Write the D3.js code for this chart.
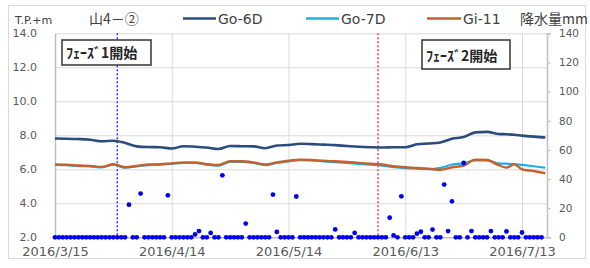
<!DOCTYPE html>
<html><head><meta charset="utf-8">
<script src="https://cdn.jsdelivr.net/npm/d3@7"></script>
<style>html,body{margin:0;padding:0;background:#fff;}svg{display:block;}</style>
</head><body>
<svg id="c" width="590" height="268"></svg>
<script>
// ---------- data ----------
const startDate = "2016/3/15";
const endDate = "2016/7/19 10:00";
const xTickLabels = ["2016/3/15","2016/4/14","2016/5/14","2016/6/13","2016/7/13"];
const leftTicks = [2,4,6,8,10,12,14];
const rightTicks = [0,20,40,60,80,100,120,140];
const seriesNames = ["Go-6D","Go-7D","Gi-11"];
const lineDays = [0,3,6,9,12,15,18,21,24,27,30,33,36,39,42,45,48,51,54,57,60,63,66,69,72,75,78,81,84,87,90,93,96,99,102,105,108,111,114,116,118,120,123,126];
const go6d = [7.81,7.80,7.78,7.74,7.65,7.68,7.55,7.35,7.31,7.30,7.22,7.36,7.33,7.28,7.19,7.37,7.36,7.35,7.24,7.40,7.43,7.50,7.48,7.45,7.42,7.37,7.33,7.30,7.28,7.30,7.30,7.47,7.52,7.58,7.80,7.90,8.17,8.20,8.08,8.06,8.03,7.98,7.92,7.87];
const go7d = [6.26,6.24,6.19,6.17,6.11,6.27,6.09,6.17,6.25,6.27,6.32,6.37,6.37,6.27,6.22,6.44,6.44,6.37,6.25,6.37,6.47,6.54,6.52,6.46,6.42,6.37,6.32,6.27,6.22,6.13,6.07,6.04,6.01,6.08,6.28,6.35,6.52,6.52,6.35,6.33,6.31,6.26,6.18,6.09];
const gi11 = [6.29,6.27,6.22,6.20,6.14,6.30,6.12,6.20,6.28,6.30,6.35,6.40,6.40,6.30,6.25,6.47,6.47,6.40,6.28,6.40,6.50,6.57,6.55,6.50,6.47,6.43,6.38,6.33,6.28,6.18,6.12,6.08,6.03,5.97,6.12,6.22,6.57,6.55,6.24,6.10,6.29,6.00,5.90,5.76];
// daily rainfall (mm), from 2016/3/15
const rain = [
 0,0,0,0,0,0,0,0,0,0,
 0,0,0,0,0,0,0,0,0,22.4,
 0,0,30,0,0,0,0,0,0,28.8,
 0,0,0,0,0,0,2,4.3,0,0,
 3,0,0,42.5,0,0,0,0,0,9.4,
 0,0,0,0,0,0,29.3,3.7,0,0,
 0,0,28,0,0,0,0,0,0,0,
 0,0,5.4,0,0,0,0,3,0,0,
 0,0,0,0,0,0,13.5,1.3,0,28.1,
 0,0,0,2.5,3.8,0,0,5.3,0,0,
 36.2,4.3,24.7,0,0,51,0,4.3,0,0,
 0,0,4.3,0,0,0,4,0,0,0,
 3.3,0,0,0,0,0];
const phaseDates = ["2016/3/31","2016/6/6"];
const phaseLabels = ["ﾌｪｰｽﾞ1開始","ﾌｪｰｽﾞ2開始"];
const chartTitle = "山4－②";
const leftUnit = "T.P.+m";
const rightUnit = "降水量mm";

// ---------- helpers ----------
const parse = s => {
  const [dp, tp] = s.split(" ");
  const [y,m,d] = dp.split("/").map(Number);
  const h = tp ? Number(tp.split(":")[0]) : 0;
  return new Date(Date.UTC(y, m-1, d, h));
};
const t0 = parse(startDate);
const dayDate = n => d3.utcDay.offset(t0, n);

const svg = d3.select("#c");
const L = 55, R = 547, T = 33.3, B = 237.3;
const font = "'DejaVu Sans', sans-serif";
const cjk = "'Noto Sans CJK JP', 'DejaVu Sans', sans-serif";

const x = d3.scaleUtc().domain([t0, parse(endDate)]).range([L, R]);
const y = d3.scaleLinear().domain([2, 14]).range([B, T]);
const y2 = d3.scaleLinear().domain([0, 140]).range([B, T]);

// outer border
svg.append("rect").attr("x",8.5).attr("y",5.5).attr("width",577).attr("height",253)
  .attr("fill","none").attr("stroke","#d9d9d9").attr("stroke-width",1);

// gridlines
svg.append("g").attr("transform",`translate(${L},0)`)
  .call(d3.axisLeft(y).tickValues(leftTicks.slice(1)).tickSize(-(R-L)).tickFormat(""))
  .call(g=>g.select(".domain").remove())
  .call(g=>g.selectAll("line").attr("stroke","#d9d9d9"));
svg.append("g").attr("transform",`translate(0,${T})`)
  .call(d3.axisBottom(x).tickValues(xTickLabels.slice(1).map(parse)).tickSize(B-T).tickFormat(""))
  .call(g=>g.select(".domain").remove())
  .call(g=>g.selectAll("line").attr("stroke","#d9d9d9"));

// axes
const gL = svg.append("g").attr("transform",`translate(${L},0)`)
  .call(d3.axisLeft(y).tickValues(leftTicks).tickSize(0).tickPadding(18).tickFormat(d3.format(".1f")));
gL.select(".domain").attr("stroke","#bfbfbf").attr("stroke-width",1.5);
gL.selectAll("text").attr("font-family",font).attr("font-size","11px").attr("fill","#595959");

const gR = svg.append("g").attr("transform",`translate(${R},0)`)
  .call(d3.axisRight(y2).tickValues(rightTicks).tickSize(4).tickPadding(8));
gR.select(".domain").attr("stroke","#bfbfbf").attr("stroke-width",1.5);
gR.selectAll("line").attr("stroke","#bfbfbf");
gR.selectAll("text").attr("font-family",font).attr("font-size","10.5px").attr("fill","#595959");

const gB = svg.append("g").attr("transform",`translate(0,${B})`)
  .call(d3.axisBottom(x).tickValues(xTickLabels.map(parse)).tickSize(0).tickPadding(9)
    .tickFormat((d,i)=>xTickLabels[i]));
gB.select(".domain").attr("stroke","#bfbfbf").attr("stroke-width",1.5);
gB.selectAll("text").attr("font-family",font).attr("font-size","13px").attr("fill","#595959");

// phase lines
const phaseColors = ["#2a2aff","#e8383a"];
phaseDates.forEach((d,i)=>{
  svg.append("line").attr("x1",x(parse(d))).attr("x2",x(parse(d))).attr("y1",T).attr("y2",B)
    .attr("stroke",phaseColors[i]).attr("stroke-width",1.4).attr("stroke-dasharray","2,2");
});

// lines
const colors = {"Go-6D":"#2b4c7e","Go-7D":"#1eaee8","Gi-11":"#c6612a"};
const widths = {"Go-6D":2.6,"Go-7D":2.2,"Gi-11":2.4};
const seriesData = {"Go-6D":go6d,"Go-7D":go7d,"Gi-11":gi11};
const line = d3.line().x(d=>x(dayDate(d[0]))).y(d=>y(d[1])).curve(d3.curveMonotoneX);
["Go-7D","Gi-11","Go-6D"].forEach(name=>{
  const pts = lineDays.map((dd,i)=>[dd, seriesData[name][i]]);
  svg.append("path").datum(pts).attr("d",line).attr("fill","none")
    .attr("stroke",colors[name]).attr("stroke-width",widths[name]).attr("stroke-linejoin","round");
});

// rainfall dots
svg.append("g").selectAll("circle").data(rain).join("circle")
  .attr("cx",(d,i)=>x(dayDate(i))).attr("cy",d=>y2(d)).attr("r",2.4).attr("fill","#0000f0");

// phase boxes
const boxes = [{x:62,y:40,w:89,h:25,tx:66,ty:58},{x:422,y:40,w:88,h:29,tx:426,ty:61}];
boxes.forEach((b,i)=>{
  svg.append("rect").attr("x",b.x).attr("y",b.y).attr("width",b.w).attr("height",b.h)
    .attr("fill","#fff").attr("stroke","#404040").attr("stroke-width",1.6);
  svg.append("text").attr("x",b.tx).attr("y",b.ty).text(phaseLabels[i])
    .attr("font-family",cjk).attr("font-size","14px").attr("font-weight","bold").attr("fill","#262626");
});

// title, units
svg.append("text").attr("x",89).attr("y",24).text(chartTitle)
  .attr("font-family",cjk).attr("font-size","14px").attr("fill","#404040");
svg.append("text").attr("x",15).attr("y",24).text(leftUnit)
  .attr("font-family",font).attr("font-size","11px").attr("fill","#404040");
svg.append("text").attr("x",520).attr("y",24).text(rightUnit)
  .attr("font-family",cjk).attr("font-size","14px").attr("fill","#404040");

// legend
const legendPos = [{x1:183,x2:216,tx:218},{x1:306,x2:339,tx:341},{x1:427,x2:461,tx:463}];
seriesNames.forEach((n,i)=>{
  const p = legendPos[i];
  svg.append("line").attr("x1",p.x1).attr("x2",p.x2).attr("y1",18.5).attr("y2",18.5)
    .attr("stroke",colors[n]).attr("stroke-width",2.6);
  svg.append("text").attr("x",p.tx).attr("y",24).text(n)
    .attr("font-family",font).attr("font-size","14px").attr("fill","#404040");
});
</script>
</body></html>
